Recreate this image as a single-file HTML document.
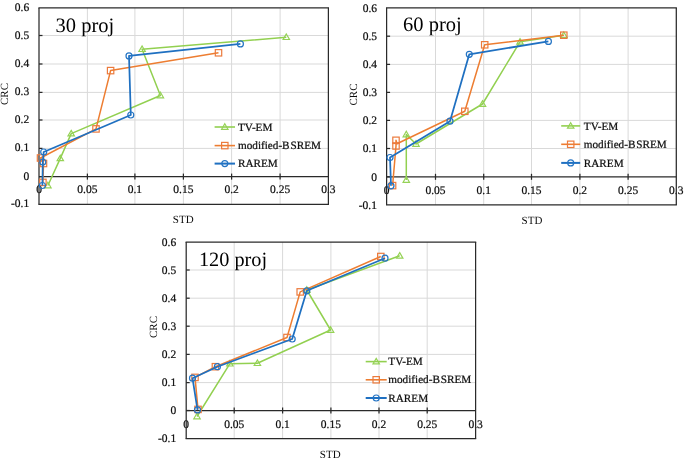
<!DOCTYPE html><html><head><meta charset="utf-8"><style>html,body{margin:0;padding:0;background:#fff;width:685px;height:461px;overflow:hidden}svg{display:block;will-change:transform}text{font-family:"Liberation Serif",serif;text-rendering:geometricPrecision}.t{stroke:#0d0d0d;stroke-width:0.22px;paint-order:stroke}</style></head><body>
<svg width="685" height="461" viewBox="0 0 685 461">
<rect width="685" height="461" fill="#fff"/>
<g><line x1="39" y1="35.5" x2="328.4" y2="35.5" stroke="#d9d9d9" stroke-width="1"/><line x1="39" y1="64" x2="328.4" y2="64" stroke="#d9d9d9" stroke-width="1"/><line x1="39" y1="92.4" x2="328.4" y2="92.4" stroke="#d9d9d9" stroke-width="1"/><line x1="39" y1="120" x2="328.4" y2="120" stroke="#d9d9d9" stroke-width="1"/><line x1="39" y1="148.4" x2="328.4" y2="148.4" stroke="#d9d9d9" stroke-width="1"/><line x1="87.4" y1="7.9" x2="87.4" y2="204.4" stroke="#d9d9d9" stroke-width="1"/><line x1="134.9" y1="7.9" x2="134.9" y2="204.4" stroke="#d9d9d9" stroke-width="1"/><line x1="183.4" y1="7.9" x2="183.4" y2="204.4" stroke="#d9d9d9" stroke-width="1"/><line x1="231.6" y1="7.9" x2="231.6" y2="204.4" stroke="#d9d9d9" stroke-width="1"/><line x1="280.1" y1="7.9" x2="280.1" y2="204.4" stroke="#d9d9d9" stroke-width="1"/><line x1="38.4" y1="7.9" x2="329" y2="7.9" stroke="#2a2a2a" stroke-width="1.25"/><line x1="38.4" y1="204.4" x2="329" y2="204.4" stroke="#2a2a2a" stroke-width="1.25"/><line x1="39" y1="176.6" x2="328.4" y2="176.6" stroke="#2a2a2a" stroke-width="1.25"/><line x1="87.4" y1="173.6" x2="87.4" y2="179.6" stroke="#2a2a2a" stroke-width="1.25"/><line x1="134.9" y1="173.6" x2="134.9" y2="179.6" stroke="#2a2a2a" stroke-width="1.25"/><line x1="183.4" y1="173.6" x2="183.4" y2="179.6" stroke="#2a2a2a" stroke-width="1.25"/><line x1="231.6" y1="173.6" x2="231.6" y2="179.6" stroke="#2a2a2a" stroke-width="1.25"/><line x1="280.1" y1="173.6" x2="280.1" y2="179.6" stroke="#2a2a2a" stroke-width="1.25"/><line x1="39" y1="35.5" x2="42.5" y2="35.5" stroke="#2a2a2a" stroke-width="1.25"/><line x1="39" y1="64" x2="42.5" y2="64" stroke="#2a2a2a" stroke-width="1.25"/><line x1="39" y1="92.4" x2="42.5" y2="92.4" stroke="#2a2a2a" stroke-width="1.25"/><line x1="39" y1="120" x2="42.5" y2="120" stroke="#2a2a2a" stroke-width="1.25"/><line x1="39" y1="148.4" x2="42.5" y2="148.4" stroke="#2a2a2a" stroke-width="1.25"/><line x1="39" y1="176.6" x2="42.5" y2="176.6" stroke="#2a2a2a" stroke-width="1.25"/><text x="29.2" y="10.9" font-size="11.5" text-anchor="end" fill="#0d0d0d" class="t">0.6</text><text x="29.2" y="38.5" font-size="11.5" text-anchor="end" fill="#0d0d0d" class="t">0.5</text><text x="29.2" y="67" font-size="11.5" text-anchor="end" fill="#0d0d0d" class="t">0.4</text><text x="29.2" y="95.4" font-size="11.5" text-anchor="end" fill="#0d0d0d" class="t">0.3</text><text x="29.2" y="123" font-size="11.5" text-anchor="end" fill="#0d0d0d" class="t">0.2</text><text x="29.2" y="151.4" font-size="11.5" text-anchor="end" fill="#0d0d0d" class="t">0.1</text><text x="29.2" y="179.6" font-size="11.5" text-anchor="end" fill="#0d0d0d" class="t">0</text><text x="29.2" y="207.4" font-size="11.5" text-anchor="end" fill="#0d0d0d" class="t">-0.1</text><text x="39" y="193.3" font-size="11.5" text-anchor="middle" fill="#0d0d0d" class="t">0</text><text x="87.4" y="193.3" font-size="11.5" text-anchor="middle" fill="#0d0d0d" class="t">0.05</text><text x="134.9" y="193.3" font-size="11.5" text-anchor="middle" fill="#0d0d0d" class="t">0.1</text><text x="183.4" y="193.3" font-size="11.5" text-anchor="middle" fill="#0d0d0d" class="t">0.15</text><text x="231.6" y="193.3" font-size="11.5" text-anchor="middle" fill="#0d0d0d" class="t">0.2</text><text x="280.1" y="193.3" font-size="11.5" text-anchor="middle" fill="#0d0d0d" class="t">0.25</text><text x="328.4" y="193.3" font-size="11.5" text-anchor="middle" fill="#0d0d0d" class="t">0.3</text><line x1="39" y1="7.9" x2="39" y2="204.4" stroke="#2a2a2a" stroke-width="1.25"/><line x1="328.4" y1="7.9" x2="328.4" y2="204.4" stroke="#2a2a2a" stroke-width="1.25"/><path d="M47.9 185.5L60.3 158.4L71.2 133.6L160.4 95.5L142.1 49.2L286.3 37.2" fill="none" stroke="#92d050" stroke-width="1.5" stroke-linejoin="round"/><path d="M47.9 182.3L51.1 187.8L44.7 187.8Z" fill="none" stroke="#95d256" stroke-width="1.2"/><path d="M60.3 155.2L63.5 160.7L57.1 160.7Z" fill="none" stroke="#95d256" stroke-width="1.2"/><path d="M71.2 130.4L74.4 135.9L68 135.9Z" fill="none" stroke="#95d256" stroke-width="1.2"/><path d="M160.4 92.3L163.6 97.8L157.2 97.8Z" fill="none" stroke="#95d256" stroke-width="1.2"/><path d="M142.1 46L145.3 51.5L138.9 51.5Z" fill="none" stroke="#95d256" stroke-width="1.2"/><path d="M286.3 34L289.5 39.5L283.1 39.5Z" fill="none" stroke="#95d256" stroke-width="1.2"/><path d="M42.9 182.4L43.5 163.5L40.5 158L96 128.9L110.6 70.6L218.5 52.8" fill="none" stroke="#ed7d31" stroke-width="1.5" stroke-linejoin="round"/><rect x="39.7" y="179.2" width="6.4" height="6.4" fill="none" stroke="#ec7a3c" stroke-width="1.2"/><rect x="40.3" y="160.3" width="6.4" height="6.4" fill="none" stroke="#ec7a3c" stroke-width="1.2"/><rect x="37.3" y="154.8" width="6.4" height="6.4" fill="none" stroke="#ec7a3c" stroke-width="1.2"/><rect x="92.8" y="125.7" width="6.4" height="6.4" fill="none" stroke="#ec7a3c" stroke-width="1.2"/><rect x="107.4" y="67.4" width="6.4" height="6.4" fill="none" stroke="#ec7a3c" stroke-width="1.2"/><rect x="215.3" y="49.6" width="6.4" height="6.4" fill="none" stroke="#ec7a3c" stroke-width="1.2"/><path d="M42.4 185.5L42.8 162L43.7 152L130.8 115L129 55.9L240.4 43.9" fill="none" stroke="#1f70c1" stroke-width="1.75" stroke-linejoin="round"/><circle cx="42.4" cy="185.5" r="3" fill="none" stroke="#2474c4" stroke-width="1.2"/><circle cx="42.8" cy="162" r="3" fill="none" stroke="#2474c4" stroke-width="1.2"/><circle cx="43.7" cy="152" r="3" fill="none" stroke="#2474c4" stroke-width="1.2"/><circle cx="130.8" cy="115" r="3" fill="none" stroke="#2474c4" stroke-width="1.2"/><circle cx="129" cy="55.9" r="3" fill="none" stroke="#2474c4" stroke-width="1.2"/><circle cx="240.4" cy="43.9" r="3" fill="none" stroke="#2474c4" stroke-width="1.2"/><text x="55.6" y="32" font-size="20.5" fill="#000">30 proj</text><text x="8.4" y="94" font-size="11" text-anchor="middle" fill="#0d0d0d" transform="rotate(-90 8.4 94)">CRC</text><text x="183.2" y="223" font-size="11" text-anchor="middle" fill="#0d0d0d">STD</text><line x1="214.6" y1="127" x2="235" y2="127" stroke="#92d050" stroke-width="1.6"/><path d="M224.8 123.8L228 129.3L221.6 129.3Z" fill="none" stroke="#95d256" stroke-width="1.2"/><text x="238" y="130.6" font-size="11.2" fill="#0d0d0d" class="t">TV-EM</text><line x1="214.6" y1="145.6" x2="235" y2="145.6" stroke="#ed7d31" stroke-width="1.6"/><rect x="221.6" y="142.4" width="6.4" height="6.4" fill="none" stroke="#ec7a3c" stroke-width="1.2"/><text x="238" y="149.2" font-size="11.2" fill="#0d0d0d" class="t">modified-B<tspan dx="0.9">SREM</tspan></text><line x1="214.6" y1="163.6" x2="235" y2="163.6" stroke="#1f70c1" stroke-width="2.0"/><circle cx="224.8" cy="163.6" r="3" fill="none" stroke="#2474c4" stroke-width="1.2"/><text x="238" y="167.2" font-size="11.2" fill="#0d0d0d" class="t">RAREM</text></g>
<g><line x1="386.6" y1="36.2" x2="676.3" y2="36.2" stroke="#d9d9d9" stroke-width="1"/><line x1="386.6" y1="64.4" x2="676.3" y2="64.4" stroke="#d9d9d9" stroke-width="1"/><line x1="386.6" y1="92.4" x2="676.3" y2="92.4" stroke="#d9d9d9" stroke-width="1"/><line x1="386.6" y1="120.4" x2="676.3" y2="120.4" stroke="#d9d9d9" stroke-width="1"/><line x1="386.6" y1="148.5" x2="676.3" y2="148.5" stroke="#d9d9d9" stroke-width="1"/><line x1="435.5" y1="7.9" x2="435.5" y2="204.9" stroke="#d9d9d9" stroke-width="1"/><line x1="483.7" y1="7.9" x2="483.7" y2="204.9" stroke="#d9d9d9" stroke-width="1"/><line x1="531.5" y1="7.9" x2="531.5" y2="204.9" stroke="#d9d9d9" stroke-width="1"/><line x1="579.9" y1="7.9" x2="579.9" y2="204.9" stroke="#d9d9d9" stroke-width="1"/><line x1="628.1" y1="7.9" x2="628.1" y2="204.9" stroke="#d9d9d9" stroke-width="1"/><line x1="386" y1="7.9" x2="676.9" y2="7.9" stroke="#2a2a2a" stroke-width="1.25"/><line x1="386" y1="204.9" x2="676.9" y2="204.9" stroke="#2a2a2a" stroke-width="1.25"/><line x1="386.6" y1="176.8" x2="676.3" y2="176.8" stroke="#2a2a2a" stroke-width="1.25"/><line x1="435.5" y1="173.8" x2="435.5" y2="179.8" stroke="#2a2a2a" stroke-width="1.25"/><line x1="483.7" y1="173.8" x2="483.7" y2="179.8" stroke="#2a2a2a" stroke-width="1.25"/><line x1="531.5" y1="173.8" x2="531.5" y2="179.8" stroke="#2a2a2a" stroke-width="1.25"/><line x1="579.9" y1="173.8" x2="579.9" y2="179.8" stroke="#2a2a2a" stroke-width="1.25"/><line x1="628.1" y1="173.8" x2="628.1" y2="179.8" stroke="#2a2a2a" stroke-width="1.25"/><line x1="386.6" y1="36.2" x2="390.1" y2="36.2" stroke="#2a2a2a" stroke-width="1.25"/><line x1="386.6" y1="64.4" x2="390.1" y2="64.4" stroke="#2a2a2a" stroke-width="1.25"/><line x1="386.6" y1="92.4" x2="390.1" y2="92.4" stroke="#2a2a2a" stroke-width="1.25"/><line x1="386.6" y1="120.4" x2="390.1" y2="120.4" stroke="#2a2a2a" stroke-width="1.25"/><line x1="386.6" y1="148.5" x2="390.1" y2="148.5" stroke="#2a2a2a" stroke-width="1.25"/><line x1="386.6" y1="176.8" x2="390.1" y2="176.8" stroke="#2a2a2a" stroke-width="1.25"/><text x="377" y="11.7" font-size="11.5" text-anchor="end" fill="#0d0d0d" class="t">0.6</text><text x="377" y="40" font-size="11.5" text-anchor="end" fill="#0d0d0d" class="t">0.5</text><text x="377" y="68.2" font-size="11.5" text-anchor="end" fill="#0d0d0d" class="t">0.4</text><text x="377" y="96.2" font-size="11.5" text-anchor="end" fill="#0d0d0d" class="t">0.3</text><text x="377" y="124.2" font-size="11.5" text-anchor="end" fill="#0d0d0d" class="t">0.2</text><text x="377" y="152.3" font-size="11.5" text-anchor="end" fill="#0d0d0d" class="t">0.1</text><text x="377" y="180.6" font-size="11.5" text-anchor="end" fill="#0d0d0d" class="t">0</text><text x="377" y="208.7" font-size="11.5" text-anchor="end" fill="#0d0d0d" class="t">-0.1</text><text x="386.6" y="193.7" font-size="11.5" text-anchor="middle" fill="#0d0d0d" class="t">0</text><text x="435.5" y="193.7" font-size="11.5" text-anchor="middle" fill="#0d0d0d" class="t">0.05</text><text x="483.7" y="193.7" font-size="11.5" text-anchor="middle" fill="#0d0d0d" class="t">0.1</text><text x="531.5" y="193.7" font-size="11.5" text-anchor="middle" fill="#0d0d0d" class="t">0.15</text><text x="579.9" y="193.7" font-size="11.5" text-anchor="middle" fill="#0d0d0d" class="t">0.2</text><text x="628.1" y="193.7" font-size="11.5" text-anchor="middle" fill="#0d0d0d" class="t">0.25</text><text x="676.3" y="193.7" font-size="11.5" text-anchor="middle" fill="#0d0d0d" class="t">0.3</text><line x1="386.6" y1="7.9" x2="386.6" y2="204.9" stroke="#2a2a2a" stroke-width="1.25"/><line x1="676.3" y1="7.9" x2="676.3" y2="204.9" stroke="#2a2a2a" stroke-width="1.25"/><path d="M406.3 180L406.3 134.5L416 144L482.5 104L520 41.8L563.8 35.2" fill="none" stroke="#92d050" stroke-width="1.5" stroke-linejoin="round"/><path d="M406.3 176.8L409.5 182.3L403.1 182.3Z" fill="none" stroke="#95d256" stroke-width="1.2"/><path d="M406.3 131.3L409.5 136.8L403.1 136.8Z" fill="none" stroke="#95d256" stroke-width="1.2"/><path d="M416 140.8L419.2 146.3L412.8 146.3Z" fill="none" stroke="#95d256" stroke-width="1.2"/><path d="M482.5 100.8L485.7 106.3L479.3 106.3Z" fill="none" stroke="#95d256" stroke-width="1.2"/><path d="M520 38.6L523.2 44.1L516.8 44.1Z" fill="none" stroke="#95d256" stroke-width="1.2"/><path d="M563.8 32L567 37.5L560.6 37.5Z" fill="none" stroke="#95d256" stroke-width="1.2"/><path d="M392.6 185.6L396 146L396 140.3L397 143.8L464.8 111.3L484.7 44.8L563.8 35.2" fill="none" stroke="#ed7d31" stroke-width="1.5" stroke-linejoin="round"/><rect x="389.4" y="182.4" width="6.4" height="6.4" fill="none" stroke="#ec7a3c" stroke-width="1.2"/><rect x="392.8" y="142.8" width="6.4" height="6.4" fill="none" stroke="#ec7a3c" stroke-width="1.2"/><rect x="392.8" y="137.1" width="6.4" height="6.4" fill="none" stroke="#ec7a3c" stroke-width="1.2"/><rect x="461.6" y="108.1" width="6.4" height="6.4" fill="none" stroke="#ec7a3c" stroke-width="1.2"/><rect x="481.5" y="41.6" width="6.4" height="6.4" fill="none" stroke="#ec7a3c" stroke-width="1.2"/><rect x="560.6" y="32" width="6.4" height="6.4" fill="none" stroke="#ec7a3c" stroke-width="1.2"/><path d="M391 185.8L390 157.5L450 121.2L469.3 54.3L548.4 41.4" fill="none" stroke="#1f70c1" stroke-width="1.75" stroke-linejoin="round"/><circle cx="391" cy="185.8" r="3" fill="none" stroke="#2474c4" stroke-width="1.2"/><circle cx="390" cy="157.5" r="3" fill="none" stroke="#2474c4" stroke-width="1.2"/><circle cx="450" cy="121.2" r="3" fill="none" stroke="#2474c4" stroke-width="1.2"/><circle cx="469.3" cy="54.3" r="3" fill="none" stroke="#2474c4" stroke-width="1.2"/><circle cx="548.4" cy="41.4" r="3" fill="none" stroke="#2474c4" stroke-width="1.2"/><text x="403" y="31" font-size="20.5" fill="#000">60 proj</text><text x="357" y="94.5" font-size="11" text-anchor="middle" fill="#0d0d0d" transform="rotate(-90 357 94.5)">CRC</text><text x="532" y="223.5" font-size="11" text-anchor="middle" fill="#0d0d0d">STD</text><line x1="561.2" y1="125.9" x2="580.2" y2="125.9" stroke="#92d050" stroke-width="1.6"/><path d="M570.7 122.7L573.9 128.2L567.5 128.2Z" fill="none" stroke="#95d256" stroke-width="1.2"/><text x="583.8" y="129.5" font-size="11.2" fill="#0d0d0d" class="t">TV-EM</text><line x1="561.2" y1="144.3" x2="580.2" y2="144.3" stroke="#ed7d31" stroke-width="1.6"/><rect x="567.5" y="141.1" width="6.4" height="6.4" fill="none" stroke="#ec7a3c" stroke-width="1.2"/><text x="583.8" y="147.9" font-size="11.2" fill="#0d0d0d" class="t">modified-B<tspan dx="0.9">SREM</tspan></text><line x1="561.2" y1="162.9" x2="580.2" y2="162.9" stroke="#1f70c1" stroke-width="2.0"/><circle cx="570.7" cy="162.9" r="3" fill="none" stroke="#2474c4" stroke-width="1.2"/><text x="583.8" y="166.5" font-size="11.2" fill="#0d0d0d" class="t">RAREM</text></g>
<g><line x1="186.2" y1="270" x2="475.6" y2="270" stroke="#d9d9d9" stroke-width="1"/><line x1="186.2" y1="298.2" x2="475.6" y2="298.2" stroke="#d9d9d9" stroke-width="1"/><line x1="186.2" y1="326.2" x2="475.6" y2="326.2" stroke="#d9d9d9" stroke-width="1"/><line x1="186.2" y1="354.4" x2="475.6" y2="354.4" stroke="#d9d9d9" stroke-width="1"/><line x1="186.2" y1="382.6" x2="475.6" y2="382.6" stroke="#d9d9d9" stroke-width="1"/><line x1="234.2" y1="242" x2="234.2" y2="438.7" stroke="#d9d9d9" stroke-width="1"/><line x1="282.6" y1="242" x2="282.6" y2="438.7" stroke="#d9d9d9" stroke-width="1"/><line x1="330.9" y1="242" x2="330.9" y2="438.7" stroke="#d9d9d9" stroke-width="1"/><line x1="379" y1="242" x2="379" y2="438.7" stroke="#d9d9d9" stroke-width="1"/><line x1="427.2" y1="242" x2="427.2" y2="438.7" stroke="#d9d9d9" stroke-width="1"/><line x1="185.6" y1="242" x2="476.2" y2="242" stroke="#2a2a2a" stroke-width="1.25"/><line x1="185.6" y1="438.7" x2="476.2" y2="438.7" stroke="#2a2a2a" stroke-width="1.25"/><line x1="186.2" y1="410.5" x2="475.6" y2="410.5" stroke="#2a2a2a" stroke-width="1.25"/><line x1="234.2" y1="407.5" x2="234.2" y2="413.5" stroke="#2a2a2a" stroke-width="1.25"/><line x1="282.6" y1="407.5" x2="282.6" y2="413.5" stroke="#2a2a2a" stroke-width="1.25"/><line x1="330.9" y1="407.5" x2="330.9" y2="413.5" stroke="#2a2a2a" stroke-width="1.25"/><line x1="379" y1="407.5" x2="379" y2="413.5" stroke="#2a2a2a" stroke-width="1.25"/><line x1="427.2" y1="407.5" x2="427.2" y2="413.5" stroke="#2a2a2a" stroke-width="1.25"/><line x1="186.2" y1="270" x2="189.7" y2="270" stroke="#2a2a2a" stroke-width="1.25"/><line x1="186.2" y1="298.2" x2="189.7" y2="298.2" stroke="#2a2a2a" stroke-width="1.25"/><line x1="186.2" y1="326.2" x2="189.7" y2="326.2" stroke="#2a2a2a" stroke-width="1.25"/><line x1="186.2" y1="354.4" x2="189.7" y2="354.4" stroke="#2a2a2a" stroke-width="1.25"/><line x1="186.2" y1="382.6" x2="189.7" y2="382.6" stroke="#2a2a2a" stroke-width="1.25"/><line x1="186.2" y1="410.5" x2="189.7" y2="410.5" stroke="#2a2a2a" stroke-width="1.25"/><text x="176.2" y="245.6" font-size="11.5" text-anchor="end" fill="#0d0d0d" class="t">0.6</text><text x="176.2" y="273.6" font-size="11.5" text-anchor="end" fill="#0d0d0d" class="t">0.5</text><text x="176.2" y="301.8" font-size="11.5" text-anchor="end" fill="#0d0d0d" class="t">0.4</text><text x="176.2" y="329.8" font-size="11.5" text-anchor="end" fill="#0d0d0d" class="t">0.3</text><text x="176.2" y="358" font-size="11.5" text-anchor="end" fill="#0d0d0d" class="t">0.2</text><text x="176.2" y="386.2" font-size="11.5" text-anchor="end" fill="#0d0d0d" class="t">0.1</text><text x="176.2" y="414.1" font-size="11.5" text-anchor="end" fill="#0d0d0d" class="t">0</text><text x="176.2" y="442.3" font-size="11.5" text-anchor="end" fill="#0d0d0d" class="t">-0.1</text><text x="186.2" y="428" font-size="11.5" text-anchor="middle" fill="#0d0d0d" class="t">0</text><text x="234.2" y="428" font-size="11.5" text-anchor="middle" fill="#0d0d0d" class="t">0.05</text><text x="282.6" y="428" font-size="11.5" text-anchor="middle" fill="#0d0d0d" class="t">0.1</text><text x="330.9" y="428" font-size="11.5" text-anchor="middle" fill="#0d0d0d" class="t">0.15</text><text x="379" y="428" font-size="11.5" text-anchor="middle" fill="#0d0d0d" class="t">0.2</text><text x="427.2" y="428" font-size="11.5" text-anchor="middle" fill="#0d0d0d" class="t">0.25</text><text x="475.6" y="428" font-size="11.5" text-anchor="middle" fill="#0d0d0d" class="t">0.3</text><line x1="186.2" y1="242" x2="186.2" y2="438.7" stroke="#2a2a2a" stroke-width="1.25"/><line x1="475.6" y1="242" x2="475.6" y2="438.7" stroke="#2a2a2a" stroke-width="1.25"/><path d="M197 416.5L229.9 363.7L257.4 363.2L330.6 330L306.8 290L399.7 255.8" fill="none" stroke="#92d050" stroke-width="1.5" stroke-linejoin="round"/><path d="M197 413.3L200.2 418.8L193.8 418.8Z" fill="none" stroke="#95d256" stroke-width="1.2"/><path d="M229.9 360.5L233.1 366L226.7 366Z" fill="none" stroke="#95d256" stroke-width="1.2"/><path d="M257.4 360L260.6 365.5L254.2 365.5Z" fill="none" stroke="#95d256" stroke-width="1.2"/><path d="M330.6 326.8L333.8 332.3L327.4 332.3Z" fill="none" stroke="#95d256" stroke-width="1.2"/><path d="M306.8 286.8L310 292.3L303.6 292.3Z" fill="none" stroke="#95d256" stroke-width="1.2"/><path d="M399.7 252.6L402.9 258.1L396.5 258.1Z" fill="none" stroke="#95d256" stroke-width="1.2"/><path d="M198 409.4L195 377.4L215.4 366.7L287 337.5L300.2 291.9L380.8 256.5" fill="none" stroke="#ed7d31" stroke-width="1.5" stroke-linejoin="round"/><rect x="194.8" y="406.2" width="6.4" height="6.4" fill="none" stroke="#ec7a3c" stroke-width="1.2"/><rect x="191.8" y="374.2" width="6.4" height="6.4" fill="none" stroke="#ec7a3c" stroke-width="1.2"/><rect x="212.2" y="363.5" width="6.4" height="6.4" fill="none" stroke="#ec7a3c" stroke-width="1.2"/><rect x="283.8" y="334.3" width="6.4" height="6.4" fill="none" stroke="#ec7a3c" stroke-width="1.2"/><rect x="297" y="288.7" width="6.4" height="6.4" fill="none" stroke="#ec7a3c" stroke-width="1.2"/><rect x="377.6" y="253.3" width="6.4" height="6.4" fill="none" stroke="#ec7a3c" stroke-width="1.2"/><path d="M197.5 409.9L192.5 378.2L217.4 366.7L292.2 339L306.8 290.8L385 258.2" fill="none" stroke="#1f70c1" stroke-width="1.75" stroke-linejoin="round"/><circle cx="197.5" cy="409.9" r="3" fill="none" stroke="#2474c4" stroke-width="1.2"/><circle cx="192.5" cy="378.2" r="3" fill="none" stroke="#2474c4" stroke-width="1.2"/><circle cx="217.4" cy="366.7" r="3" fill="none" stroke="#2474c4" stroke-width="1.2"/><circle cx="292.2" cy="339" r="3" fill="none" stroke="#2474c4" stroke-width="1.2"/><circle cx="306.8" cy="290.8" r="3" fill="none" stroke="#2474c4" stroke-width="1.2"/><circle cx="385" cy="258.2" r="3" fill="none" stroke="#2474c4" stroke-width="1.2"/><text x="198.9" y="266" font-size="20.3" fill="#000">120 proj</text><text x="157.1" y="327" font-size="11" text-anchor="middle" fill="#0d0d0d" transform="rotate(-90 157.1 327)">CRC</text><text x="330.2" y="457.5" font-size="11" text-anchor="middle" fill="#0d0d0d">STD</text><line x1="365.7" y1="361.6" x2="386.7" y2="361.6" stroke="#92d050" stroke-width="1.6"/><path d="M376.2 358.4L379.4 363.9L373 363.9Z" fill="none" stroke="#95d256" stroke-width="1.2"/><text x="388.3" y="365.2" font-size="11.2" fill="#0d0d0d" class="t">TV-EM</text><line x1="365.7" y1="379.8" x2="386.7" y2="379.8" stroke="#ed7d31" stroke-width="1.6"/><rect x="373" y="376.6" width="6.4" height="6.4" fill="none" stroke="#ec7a3c" stroke-width="1.2"/><text x="388.3" y="383.4" font-size="11.2" fill="#0d0d0d" class="t">modified-B<tspan dx="0.9">SREM</tspan></text><line x1="365.7" y1="398" x2="386.7" y2="398" stroke="#1f70c1" stroke-width="2.0"/><circle cx="376.2" cy="398" r="3" fill="none" stroke="#2474c4" stroke-width="1.2"/><text x="388.3" y="401.6" font-size="11.2" fill="#0d0d0d" class="t">RAREM</text></g>
</svg></body></html>
